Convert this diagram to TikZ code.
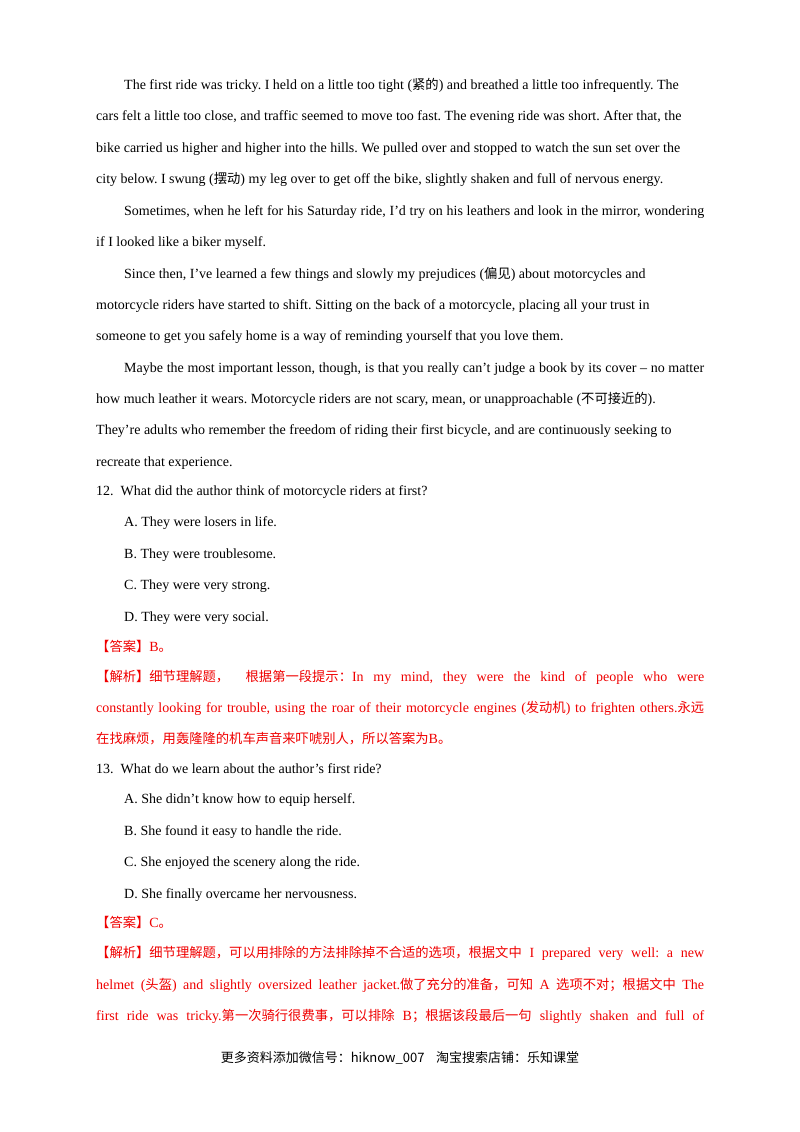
\documentclass[tikz,border=0pt]{standalone}
\usepackage{fontspec}
\setmainfont{Liberation Serif}
\newfontfamily\cjk{Noto Sans CJK SC}[Scale=0.95]
\newfontfamily\cjks{Noto Sans CJK SC}
\definecolor{ansred}{RGB}{240,0,0}
\newcommand{\J}[1]{\makebox[608pt][s]{#1}}
\newcommand{\Jb}[1]{\makebox[580pt][s]{#1}}
\frenchspacing
\begin{document}
\begin{tikzpicture}[x=1pt,y=-1pt,
  ln/.style={anchor=base west,inner sep=0pt,font=\fontsize{14}{16}\selectfont},
  rd/.style={ln,text=ansred}]
\useasboundingbox (0,0) rectangle (800,1132);
\fill[white] (0,0) rectangle (800,1132);
\node[ln] (l1) at (124,89) {The first ride was tricky. I held on a little too tight ({\cjk 紧的}) and breathed a little too infrequently. The};
\node[ln] (l2) at (96,120) {cars felt a little too close, and traffic seemed to move too fast. The evening ride was short. After that, the};
\node[ln] (l3) at (96,152) {bike carried us higher and higher into the hills. We pulled over and stopped to watch the sun set over the};
\node[ln] (l4) at (96,183) {city below. I swung ({\cjk 摆动}) my leg over to get off the bike, slightly shaken and full of nervous energy.};
\node[ln] (l5) at (124,215) {\Jb{Sometimes, when he left for his Saturday ride, I’d try on his leathers and look in the mirror, wondering}};
\node[ln] (l6) at (96,246) {if I looked like a biker myself.};
\node[ln] (l7) at (124,278) {Since then, I’ve learned a few things and slowly my prejudices ({\cjk 偏见}) about motorcycles and};
\node[ln] (l8) at (96,309) {motorcycle riders have started to shift. Sitting on the back of a motorcycle, placing all your trust in};
\node[ln] (l9) at (96,340) {someone to get you safely home is a way of reminding yourself that you love them.};
\node[ln] (l10) at (124,372) {\Jb{Maybe the most important lesson, though, is that you really can’t judge a book by its cover – no matter}};
\node[ln] (l11) at (96,403) {how much leather it wears. Motorcycle riders are not scary, mean, or unapproachable ({\cjk 不可接近的}).};
\node[ln] (l12) at (96,434) {They’re adults who remember the freedom of riding their first bicycle, and are continuously seeking to};
\node[ln] (l13) at (96,466) {recreate that experience.};
\node[ln] (q12) at (96,495) {12.\ \ What did the author think of motorcycle riders at first?};
\node[ln] (a1) at (124,526) {A. They were losers in life.};
\node[ln] (a2) at (124,558) {B. They were troublesome.};
\node[ln] (a3) at (124,589) {C. They were very strong.};
\node[ln] (a4) at (124,621) {D. They were very social.};
\node[rd] (k1) at (96,651) {{\cjk 【答案】}B{\cjk 。}};
\node[rd] (j1) at (96,681) {\J{{\cjk 【解析】细节理解题，\ \ 根据第一段提示：}In my mind, they were the kind of people who were}};
\node[rd] (j2) at (96,712) {\J{constantly looking for trouble, using the roar of their motorcycle engines ({\cjk 发动机}) to frighten others.{\cjk 永远}}};
\node[rd] (j3) at (96,743) {{\cjk 在找麻烦，用轰隆隆的机车声音来吓唬别人，所以答案为}B{\cjk 。}};
\node[ln] (q13) at (96,773) {13.\ \ What do we learn about the author’s first ride?};
\node[ln] (b1) at (124,803) {A. She didn’t know how to equip herself.};
\node[ln] (b2) at (124,835) {B. She found it easy to handle the ride.};
\node[ln] (b3) at (124,866) {C. She enjoyed the scenery along the ride.};
\node[ln] (b4) at (124,898) {D. She finally overcame her nervousness.};
\node[rd] (k2) at (96,927) {{\cjk 【答案】}C{\cjk 。}};
\node[rd] (m1) at (96,957) {\J{{\cjk 【解析】细节理解题，可以用排除的方法排除掉不合适的选项，根据文中} I prepared very well: a new}};
\node[rd] (m2) at (96,989) {\J{helmet ({\cjk 头盔}) and slightly oversized leather jacket.{\cjk 做了充分的准备，可知} A {\cjk 选项不对；根据文中} The}};
\node[rd] (m3) at (96,1020) {\J{first ride was tricky.{\cjk 第一次骑行很费事，可以排除} B{\cjk ；根据该段最后一句} slightly shaken and full of}};
\node[ln,anchor=base,font=\fontsize{13}{14}\cjks] (ft) at (400,1062) {更多资料添加微信号：hiknow\_007\ \ \ \ 淘宝搜索店铺：乐知课堂};
\end{tikzpicture}
\end{document}
